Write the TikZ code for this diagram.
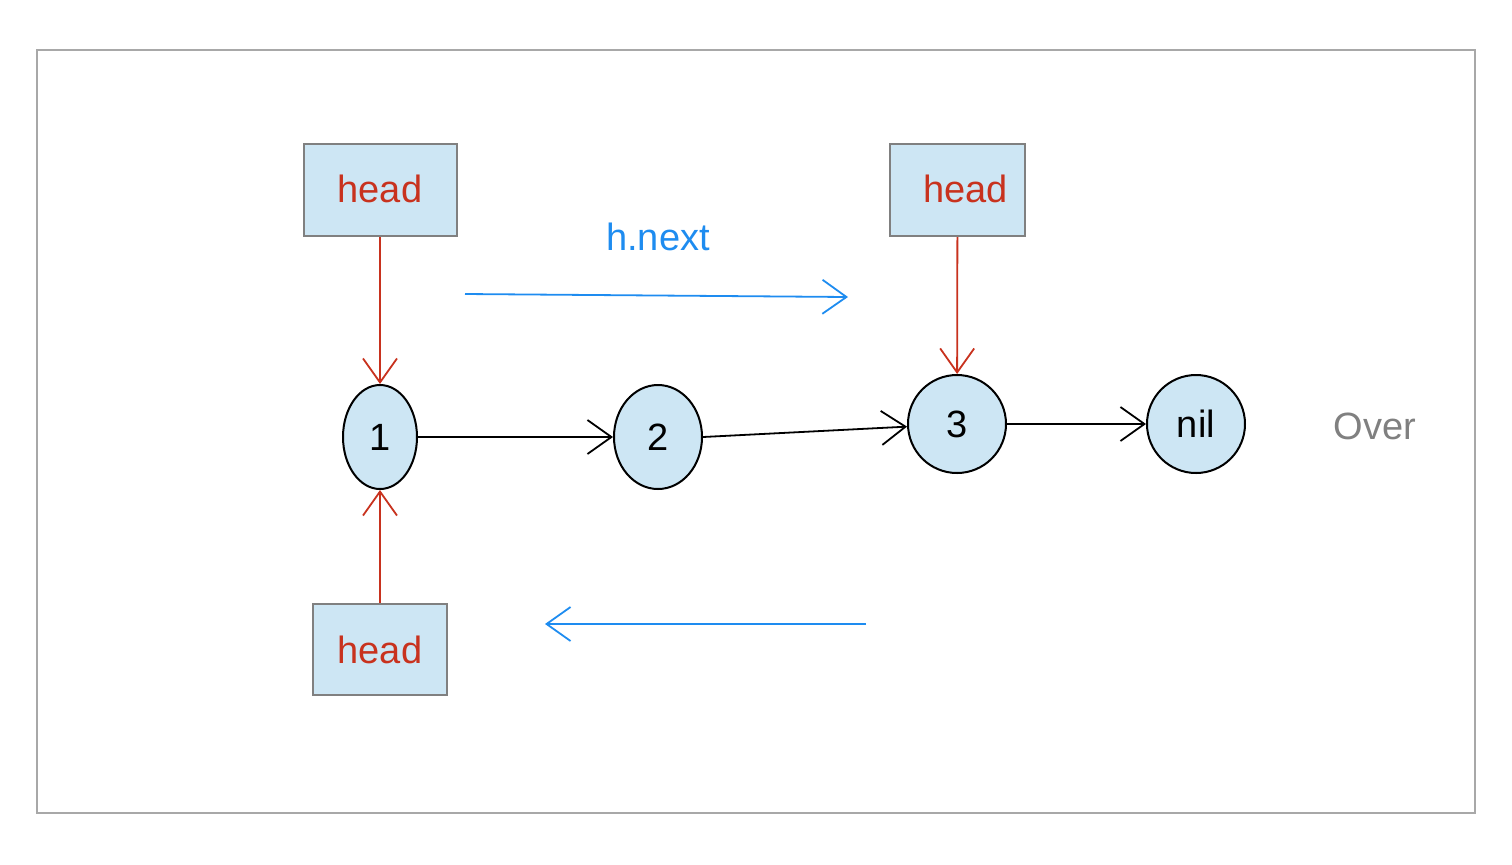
\documentclass[tikz,border=0pt]{standalone}
\usepackage{fontspec}
\setmainfont{Liberation Sans}
\usetikzlibrary{arrows.meta,shapes.geometric}
\definecolor{cellfill}{HTML}{CDE6F4}
\definecolor{boxline}{HTML}{808080}
\definecolor{framegray}{HTML}{A8A8A8}
\definecolor{headred}{HTML}{C8321E}
\definecolor{moveblue}{HTML}{1E8CF0}
\tikzset{
  x=0.5pt, y=-0.5pt,
  headbox/.style={draw=boxline, line width=1pt, fill=cellfill, inner sep=0pt,
    text=headred, font=\fontsize{19}{22}\selectfont},
  listnode/.style={ellipse, draw=black, line width=1pt, fill=cellfill, inner sep=0pt,
    font=\fontsize{19}{22}\selectfont},
  barb/.style={-{Straight Barb[length=12pt,width=17pt]}, line width=0.9pt},
  ptr/.style={barb, draw=headred},
  link/.style={barb, draw=black},
  move/.style={barb, draw=moveblue},
}
\begin{document}
\begin{tikzpicture}
\useasboundingbox (0,0) rectangle (1512,864);
\draw[framegray, line width=0.9pt] (37,50) rectangle (1475,813);

% head pointers
\node[headbox, minimum width=76.5pt, minimum height=46pt] (h1) at (380,190) {\raisebox{1.5pt}{head}};
\node[headbox, minimum width=67.5pt, minimum height=46pt] (h2) at (957.5,190) {\hspace{8pt}\raisebox{1.5pt}{head}};
\node[headbox, minimum width=67pt, minimum height=45.5pt] (h3) at (380,649.5) {head};

% list cells
\node[listnode, minimum width=37pt, minimum height=52pt] (n1) at (380,437) {1};
\node[listnode, minimum width=44pt, minimum height=52pt] (n2) at (658,437) {2};
\node[listnode, minimum width=49pt, minimum height=49pt] (n3) at (957,424) {3};
\node[listnode, minimum width=49pt, minimum height=49pt] (nil) at (1196,424) {nil};

\node[text=boxline, font=\fontsize{19}{22}\selectfont] (over) at (1375,426) {Over};
\node[text=moveblue, font=\fontsize{19}{22}\selectfont] (hnext) at (658,237) {h.next};

% links between cells
\draw[link] (n1) -- (n2);
\draw[link] (n2.east) -- (n3.183);
\draw[link] (n3) -- (nil);

% head pointing at cells
\draw[ptr] (h1) -- (n1);
\draw[ptr] (h2) -- (n3);
\draw[ptr] (h3) -- (n1);

% movement of head
\coordinate (fwdA) at (465,294);
\coordinate (fwdB) at (848,297);
\coordinate (backA) at (866,624);
\coordinate (backB) at (545,624);
\draw[move] (fwdA) -- (fwdB);
\draw[move] (backA) -- (backB);
\end{tikzpicture}
\end{document}
